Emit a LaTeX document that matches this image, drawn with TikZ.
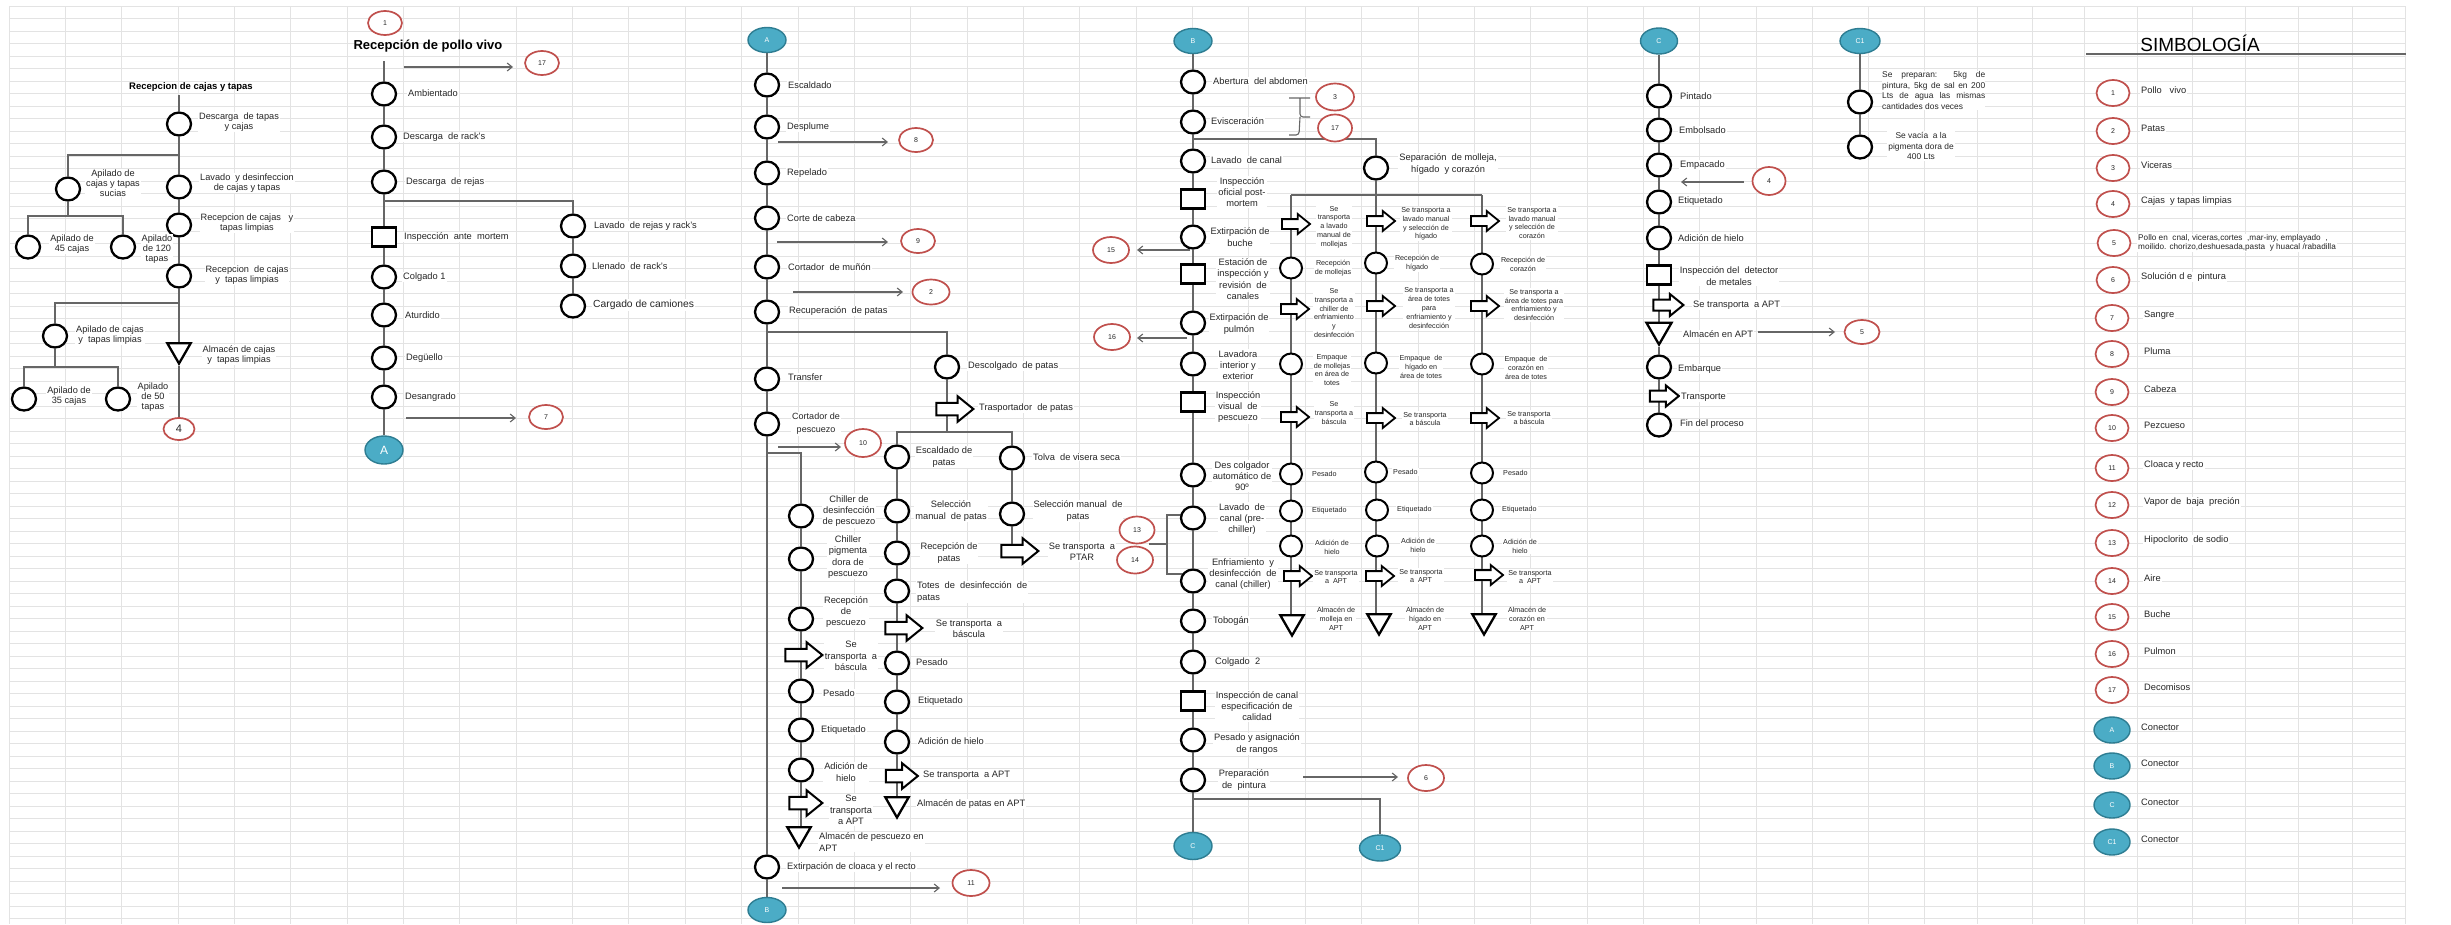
\documentclass[tikz,border=0pt]{standalone}
\usepackage{fontspec}
\setmainfont{Liberation Sans}
\usetikzlibrary{shapes.geometric,shapes.arrows,arrows.meta,backgrounds}
\definecolor{ink}{HTML}{262626}
\definecolor{wire}{HTML}{666666}
\definecolor{cellline}{HTML}{E3E3E3}
\definecolor{refred}{HTML}{C0504D}
\definecolor{conteal}{HTML}{4BACC6}
\definecolor{conedge}{HTML}{2E7D92}
% invisible struts that set the shaft thickness of the transport arrows
\newcommand\shaftbig{\rule{0pt}{10.5pt}}
\newcommand\shaftmid{\rule{0pt}{9pt}}
\newcommand\shaftsmall{\rule{0pt}{8pt}}
\tikzset{
  opc/.style={ellipse, draw=black, line width=2.3pt, fill=white, minimum width=24pt, minimum height=23pt, inner sep=0pt},
  opcs/.style={opc, line width=2pt, minimum width=22pt, minimum height=21pt},
  inspbox/.style={rectangle, draw=black, line width=2.3pt, fill=white, minimum width=24pt, minimum height=19pt, inner sep=0pt},
  storetri/.style={regular polygon, regular polygon sides=3, shape border rotate=180, draw=black, line width=2.3pt, fill=white, minimum size=27pt, inner sep=0pt},
  movearrow/.style={single arrow, draw=black, line width=2pt, fill=white, minimum height=37pt, minimum width=1pt, single arrow head extend=6.5pt, single arrow tip angle=78, inner sep=0pt},
  moveshort/.style={movearrow, line width=1.8pt, minimum height=28pt, single arrow head extend=5pt},
  refnum/.style={ellipse, draw=refred, line width=1.7pt, fill=white, minimum width=34pt, minimum height=24pt, inner sep=0pt, text=ink, font=\fontsize{7}{8}\selectfont},
  connball/.style={ellipse, draw=conedge, line width=1.4pt, fill=conteal, minimum width=38pt, minimum height=25pt, inner sep=0pt, text=white, font=\fontsize{7}{8}\selectfont},
  txt/.style={fill=white, inner sep=1pt, text=ink, align=center, font=\fontsize{9.3}{11.3}\selectfont},
  txtl/.style={txt, anchor=west, align=left},
  txtc/.style={txt, font=\fontsize{9.2}{9.8}\selectfont},
  vtxt/.style={txt, font=\fontsize{7.2}{8.8}\selectfont},
  vtxtl/.style={vtxt, anchor=west, align=left},
  flow/.style={draw=wire, line width=1.3pt},
  spill/.style={draw=wire, line width=1.1pt, -{Straight Barb[length=5pt,width=8pt]}},
}
\begin{document}
\begin{tikzpicture}[x=1pt,y=-1pt]
\useasboundingbox (0,0) rectangle (2451,924);
% spreadsheet cells behind the chart
\begin{pgfonlayer}{background}
  \fill[white] (0,0) rectangle (2451,924);
  \foreach \i in {0,...,33} \draw[cellline, line width=1pt] ({9+56.36*\i},6) -- ({9+56.36*\i},924);
  \foreach \gx in {1924,1977,2032,2084,2137,2192,2245,2298,2352,2405} \draw[cellline, line width=1pt] (\gx,6) -- (\gx,924);
  \foreach \j in {0,...,73} \draw[cellline, line width=1pt] (9,{6+12.5*\j}) -- (2405,{6+12.5*\j});
\end{pgfonlayer}

% ===== Recepcion de cajas y tapas =====
\node[font=\bfseries\fontsize{9.5}{11}\selectfont, text=black] (cjT) at (191,87) {Recepcion de cajas y tapas};
\node[opc] (cj1) at (179,124) {};
\node[txtc] (cj1t) at (239,122) {Descarga\ \ de tapas\\ y cajas};
\node[opc] (cj2) at (68,189) {};
\node[txtc] (cj2t) at (113,183) {Apilado de\\ cajas y tapas\\ sucias};
\node[opc] (cj3) at (179,187) {};
\node[txtc] (cj3t) at (247,183) {Lavado\ \ y desinfeccion\\ de cajas y tapas};
\node[opc] (cj4) at (179,225) {};
\node[txtc] (cj4t) at (247,223) {Recepcion de cajas\ \ \ y\\ tapas limpias};
\node[opc] (cj5) at (28,247) {};
\node[txtc] (cj5t) at (72,244) {Apilado de\\ 45 cajas};
\node[opc] (cj6) at (123,247) {};
\node[txtc] (cj6t) at (157,249) {Apilado\\ de 120\\ tapas};
\node[opc] (cj7) at (179,276) {};
\node[txtc] (cj7t) at (247,275) {Recepcion\ \ de cajas\\ y\ \ tapas limpias};
\node[opc] (cj8) at (55,336) {};
\node[txtc] (cj8t) at (110,335) {Apilado de cajas\\ y\ \ tapas limpias};
\node[opc] (cj9) at (24,399) {};
\node[txtc] (cj9t) at (69,396) {Apilado de\\ 35 cajas};
\node[opc] (cj10) at (118,399) {};
\node[txtc] (cj10t) at (153,397) {Apilado\\ de 50\\ tapas};
\node[storetri] (cjS) at (179,350) {};
\node[txtc] (cjSt) at (239,355) {Almacén de cajas\\ y\ \ tapas limpias};
\node[refnum, minimum width=31pt, minimum height=22pt, font=\fontsize{11}{12}\selectfont] (cjR4) at (179,429) {4};
\coordinate (cjJ1) at (179,155);
\coordinate (cjJ2) at (68,216);
\coordinate (cjJ3) at (179,303);
\coordinate (cjJ4) at (55,367);

% ===== Recepcion de pollo vivo =====
\node[refnum] (pvR1) at (385,23) {1};
\node[font=\bfseries\fontsize{13}{15}\selectfont, text=black] (pvT) at (428,46) {Recepción de pollo vivo};
\coordinate (pv0) at (384,61);
\node[opc] (pv1) at (384,94) {};   \node[txtl] (pv1t) at (407,93) {Ambientado};
\node[opc] (pv2) at (384,137) {};  \node[txtl] (pv2t) at (402,137) {Descarga\ \ de rack's};
\node[opc] (pv3) at (384,182) {};  \node[txtl] (pv3t) at (405,182) {Descarga\ \ de rejas};
\node[inspbox] (pv4) at (384,237) {}; \node[txtl] (pv4t) at (403,237) {Inspección\ \ ante\ \ mortem};
\node[opc] (pv5) at (384,277) {};  \node[txtl] (pv5t) at (402,277) {Colgado 1};
\node[opc] (pv6) at (384,315) {};  \node[txtl] (pv6t) at (404,315) {Aturdido};
\node[opc] (pv7) at (384,358) {};  \node[txtl] (pv7t) at (405,358) {Degüello};
\node[opc] (pv8) at (384,397) {};  \node[txtl] (pv8t) at (404,397) {Desangrado};
\node[connball, minimum height=28pt, font=\fontsize{12}{14}\selectfont] (cnA1) at (384,450) {A};
\coordinate (pvJ) at (384,201);
\node[opc] (pq1) at (573,226) {};  \node[txtl] (pq1t) at (593,226) {Lavado\ \ de rejas y rack's};
\node[opc] (pq2) at (573,266) {};  \node[txtl] (pq2t) at (591,266) {Llenado\ \ de rack's};
\node[opc] (pq3) at (573,306) {};  \node[txtl, font=\fontsize{10.3}{12}\selectfont] (pq3t) at (592,305) {Cargado de camiones};
\coordinate (pvS17) at (404,67);  \coordinate (pvE17) at (513,67);
\node[refnum] (pvR17) at (542,63) {17};
\coordinate (pvS7) at (406,418);  \coordinate (pvE7) at (516,418);
\node[refnum] (pvR7) at (546,417) {7};

% ===== Column A =====
\node[connball] (cnA2) at (767,40) {A};
\node[opc] (av1) at (767,85) {};  \node[txtl] (av1t) at (787,85) {Escaldado};
\node[opc] (av2) at (767,127) {}; \node[txtl] (av2t) at (786,127) {Desplume};
\node[opc] (av3) at (767,173) {}; \node[txtl] (av3t) at (786,173) {Repelado};
\node[opc] (av4) at (767,218) {}; \node[txtl] (av4t) at (786,218) {Corte de cabeza};
\node[opc] (av5) at (767,267) {}; \node[txtl] (av5t) at (787,267) {Cortador\ \ de muñón};
\node[opc] (av6) at (767,312) {}; \node[txtl] (av6t) at (788,311) {Recuperación\ \ de patas};
\node[opc] (av7) at (767,379) {}; \node[txtl] (av7t) at (787,377) {Transfer};
\node[opc] (av8) at (767,424) {}; \node[txt, font=\fontsize{9}{13}\selectfont] (av8t) at (816,424) {Cortador de\\ pescuezo};
\node[opc] (av9) at (767,867) {}; \node[txtl] (av9t) at (786,867) {Extirpación de cloaca y el recto};
\node[connball] (cnB1) at (767,910) {B};
\coordinate (avJ1) at (767,332);
\coordinate (avJ2) at (767,453);
\coordinate (avS8) at (778,142);  \coordinate (avE8) at (888,142);  \node[refnum] (avR8) at (916,140) {8};
\coordinate (avS9) at (777,242);  \coordinate (avE9) at (888,242);  \node[refnum] (avR9) at (918,241) {9};
\coordinate (avS2) at (793,292);  \coordinate (avE2) at (903,292);  \node[refnum, minimum width=37pt, minimum height=25pt] (avR2) at (931,292) {2};
\coordinate (avS10) at (778,447); \coordinate (avE10) at (841,447); \node[refnum, minimum width=36pt, minimum height=28pt] (avR10) at (863,443) {10};
\coordinate (avS11) at (782,888); \coordinate (avE11) at (940,888); \node[refnum, minimum width=37pt, minimum height=26pt] (avR11) at (971,883) {11};

% feet branch
\node[opc] (pt1) at (947,367) {};        \node[txtl] (pt1t) at (967,366) {Descolgado\ \ de patas};
\node[movearrow] (pt2) at (951,409) {\shaftbig};  \node[txtl] (pt2t) at (978,408) {Trasportador\ \ de patas};
\coordinate (ptJ) at (947,432);
\node[opc] (pl1) at (897,457) {};  \node[txt] (pl1t) at (944,457) {Escaldado de\\ patas};
\node[opc] (pl2) at (897,511) {};  \node[txt] (pl2t) at (951,511) {Selección\\ manual\ \ de patas};
\node[opc] (pl3) at (897,553) {};  \node[txt] (pl3t) at (949,553) {Recepción de\\ patas};
\node[opc] (pl4) at (897,591) {};  \node[txtl] (pl4t) at (916,592) {Totes\ \ de\ \ desinfección\ \ de\\ patas};
\node[movearrow] (pl5) at (900,628) {\shaftbig};  \node[txt] (pl5t) at (969,629) {Se transporta\ \ a\\ báscula};
\node[opc] (pl6) at (897,663) {};  \node[txtl] (pl6t) at (915,662) {Pesado};
\node[opc] (pl7) at (897,702) {};  \node[txtl] (pl7t) at (917,701) {Etiquetado};
\node[opc] (pl8) at (897,742) {};  \node[txtl] (pl8t) at (917,741) {Adición de hielo};
\node[movearrow, minimum height=32pt] (pl9) at (898,776) {\shaftbig}; \node[txtl] (pl9t) at (922,775) {Se transporta\ \ a APT};
\node[storetri] (pl10) at (897,804) {};  \node[txtl] (pl10t) at (916,804) {Almacén de patas en APT};
\node[opc] (pr1) at (1012,458) {}; \node[txtl] (pr1t) at (1032,457) {Tolva\ \ de visera seca};
\node[opc] (pr2) at (1012,514) {}; \node[txt] (pr2t) at (1078,511) {Selección manual\ \ de\\ patas};
\node[movearrow] (pr3) at (1016,551) {\shaftbig}; \node[txt] (pr3t) at (1082,552) {Se transporta\ \ a\\ PTAR};

% neck branch
\node[opc] (nk1) at (801,516) {};  \node[txt] (nk1t) at (849,511) {Chiller de\\ desinfección\\ de pescuezo};
\node[opc] (nk2) at (801,559) {};  \node[txt] (nk2t) at (848,557) {Chiller\\ pigmenta\\ dora de\\ pescuezo};
\node[opc] (nk3) at (801,619) {};  \node[txt] (nk3t) at (846,612) {Recepción\\ de\\ pescuezo};
\node[movearrow] (nk4) at (800,655) {\shaftbig};  \node[txt] (nk4t) at (851,656) {Se\\ transporta\ \ a\\ báscula};
\node[opc] (nk5) at (801,691) {};  \node[txtl] (nk5t) at (822,693) {Pesado};
\node[opc] (nk6) at (801,730) {};  \node[txtl] (nk6t) at (820,730) {Etiquetado};
\node[opc] (nk7) at (801,770) {};  \node[txt] (nk7t) at (846,772) {Adición de\\ hielo};
\node[movearrow, minimum height=33pt] (nk8) at (802,803) {\shaftbig}; \node[txt] (nk8t) at (851,810) {Se\\ transporta\\ a APT};
\node[storetri] (nk9) at (799,834) {};  \node[txtl] (nk9t) at (818,842) {Almacén de pescuezo en\\ APT};

% ===== Column B =====
\node[connball] (cnB2) at (1193,41) {B};
\node[opc] (bv1) at (1193,82) {};      \node[txtl] (bv1t) at (1212,81) {Abertura\ \ del abdomen};
\node[opc] (bv2) at (1193,122) {};     \node[txtl] (bv2t) at (1210,121) {Evisceración};
\node[opc] (bv3) at (1193,161) {};     \node[txtl] (bv3t) at (1210,160) {Lavado\ \ de canal};
\node[inspbox] (bv4) at (1193,199) {}; \node[txt] (bv4t) at (1242,192) {Inspección\\ oficial post-\\ mortem};
\node[opc] (bv5) at (1193,237) {};     \node[txt] (bv5t) at (1240,237) {Extirpación de\\ buche};
\node[inspbox] (bv6) at (1193,274) {}; \node[txt] (bv6t) at (1243,279) {Estación de\\ inspección y\\ revisión\ \ de\\ canales};
\node[opc] (bv7) at (1193,323) {};     \node[txt] (bv7t) at (1239,324) {Extirpación de\\ pulmón};
\node[opc] (bv8) at (1193,364) {};     \node[txt] (bv8t) at (1238,365) {Lavadora\\ interior y\\ exterior};
\node[inspbox] (bv9) at (1193,402) {}; \node[txt] (bv9t) at (1238,407) {Inspección\\ visual\ \ de\\ pescuezo};
\node[opc] (bv10) at (1193,475) {};    \node[txt] (bv10t) at (1242,476) {Des colgador\\ automático de\\ 90º};
\node[opc] (bv11) at (1193,518) {};    \node[txt] (bv11t) at (1242,519) {Lavado\ \ de\\ canal (pre-\\ chiller)};
\node[opc] (bv12) at (1193,581) {};    \node[txt] (bv12t) at (1243,574) {Enfriamiento\ \ y\\ desinfección\ \ de\\ canal (chiller)};
\node[opc] (bv13) at (1193,621) {};    \node[txtl] (bv13t) at (1212,621) {Tobogán};
\node[opc] (bv14) at (1193,662) {};    \node[txtl] (bv14t) at (1214,662) {Colgado\ \ 2};
\node[inspbox] (bv15) at (1193,701) {};\node[txt] (bv15t) at (1257,706) {Inspección de canal\\ especificación de\\ calidad};
\node[opc] (bv16) at (1193,740) {};    \node[txt] (bv16t) at (1257,744) {Pesado y asignación\\ de rangos};
\node[opc] (bv17) at (1193,780) {};    \node[txt] (bv17t) at (1244,780) {Preparación\\ de\ \ pintura};
\node[connball, minimum height=27pt] (cnC2) at (1193,846) {C};
\node[connball, minimum width=41pt, minimum height=26pt] (cnC1a) at (1380,848) {C1};
\coordinate (bvJ1) at (1193,139);
\coordinate (bvJ2) at (1193,799);
\node[refnum, minimum width=38pt, minimum height=27pt] (bvR3) at (1335,97) {3};
\node[refnum, minimum width=34pt, minimum height=27pt] (bvR17) at (1335,128) {17};
\coordinate (bzA) at (1289,98); \coordinate (bzB) at (1289,135); \coordinate (bzT) at (1310,117);
\node[refnum, minimum width=36pt, minimum height=26pt] (bvR15) at (1111,250) {15};
\coordinate (bvS15) at (1190,250); \coordinate (bvE15) at (1137,250);
\node[refnum, minimum width=36pt, minimum height=26pt] (bvR16) at (1112,337) {16};
\coordinate (bvS16) at (1187,338); \coordinate (bvE16) at (1137,338);
\node[refnum, minimum width=35pt, minimum height=27pt] (bvR13) at (1137,530) {13};
\node[refnum, minimum width=36pt, minimum height=27pt] (bvR14) at (1135,560) {14};
\coordinate (kA) at (1182,515); \coordinate (kB) at (1167,515); \coordinate (kC) at (1167,574);
\coordinate (kD) at (1186,574); \coordinate (kM) at (1167,544); \coordinate (kT) at (1149,544);
\node[refnum, minimum width=36pt, minimum height=26pt] (bvR6) at (1426,778) {6};
\coordinate (bvS6) at (1303,777); \coordinate (bvE6) at (1398,777);

% viscera split
\node[opc] (vs0) at (1376,168) {}; \node[txt] (vs0t) at (1448,164) {Separación\ \ de molleja,\\ hígado\ \ y corazón};
\coordinate (vsL) at (1291,195); \coordinate (vsR) at (1482,195);
% gizzard
\node[moveshort] (ml1) at (1293,224) {\shaftsmall}; \node[vtxt] (ml1t) at (1334,227) {Se\\ transporta\\ a lavado\\ manual de\\ mollejas};
\node[opcs] (ml2) at (1291,268) {};      \node[vtxt] (ml2t) at (1333,268) {Recepción\\ de mollejas};
\node[moveshort] (ml3) at (1292,309) {\shaftsmall}; \node[vtxt] (ml3t) at (1334,313) {Se\\ transporta a\\ chiller de\\ enfriamiento\\ y\\ desinfección};
\node[opcs] (ml4) at (1291,364) {};      \node[vtxt] (ml4t) at (1332,370) {Empaque\\ de mollejas\\ en área de\\ totes};
\node[moveshort] (ml5) at (1292,417) {\shaftsmall}; \node[vtxt] (ml5t) at (1334,413) {Se\\ transporta a\\ báscula};
\node[opcs] (ml6) at (1291,474) {};      \node[vtxtl] (ml6t) at (1311,474) {Pesado};
\node[opcs] (ml7) at (1291,511) {};      \node[vtxtl] (ml7t) at (1311,511) {Etiquetado};
\node[opcs] (ml8) at (1291,546) {};      \node[vtxt] (ml8t) at (1332,547) {Adición de\\ hielo};
\node[moveshort] (ml9) at (1295,576) {\shaftsmall}; \node[vtxt] (ml9t) at (1336,577) {Se transporta\\ a\ \ APT};
\node[storetri] (ml10) at (1292,622) {}; \node[vtxt] (ml10t) at (1336,619) {Almacén de\\ molleja en\\ APT};
% liver
\node[moveshort] (mm1) at (1378,221) {\shaftsmall}; \node[vtxt] (mm1t) at (1426,224) {Se transporta a\\ lavado manual\\ y selección de\\ hígado};
\node[opcs] (mm2) at (1376,263) {};      \node[vtxt] (mm2t) at (1417,263) {Recepción de\\ hígado};
\node[moveshort] (mm3) at (1378,306) {\shaftsmall}; \node[vtxt] (mm3t) at (1429,308) {Se transporta a\\ área de totes\\ para\\ enfriamiento y\\ desinfección};
\node[opcs] (mm4) at (1376,363) {};      \node[vtxt] (mm4t) at (1421,367) {Empaque\ \ de\\ hígado en\\ área de totes};
\node[moveshort] (mm5) at (1378,418) {\shaftsmall}; \node[vtxt] (mm5t) at (1425,419) {Se transporta\\ a báscula};
\node[opcs] (mm6) at (1376,472) {};      \node[vtxtl] (mm6t) at (1392,472) {Pesado};
\node[opcs] (mm7) at (1377,510) {};      \node[vtxtl] (mm7t) at (1396,510) {Etiquetado};
\node[opcs] (mm8) at (1377,546) {};      \node[vtxt] (mm8t) at (1418,545) {Adición de\\ hielo};
\node[moveshort] (mm9) at (1377,576) {\shaftsmall}; \node[vtxt] (mm9t) at (1421,576) {Se transporta\\ a\ \ APT};
\node[storetri] (mm10) at (1379,621) {}; \node[vtxt] (mm10t) at (1425,619) {Almacén de\\ hígado en\\ APT};
% heart
\node[moveshort] (mr1) at (1482,221) {\shaftsmall}; \node[vtxt] (mr1t) at (1532,223) {Se transporta a\\ lavado manual\\ y selección de\\ corazón};
\node[opcs] (mr2) at (1482,264) {};      \node[vtxt] (mr2t) at (1523,264) {Recepción de\\ corazón};
\node[moveshort] (mr3) at (1482,306) {\shaftsmall}; \node[vtxt] (mr3t) at (1534,305) {Se transporta a\\ área de totes para\\ enfriamiento y\\ desinfección};
\node[opcs] (mr4) at (1482,364) {};      \node[vtxt] (mr4t) at (1526,368) {Empaque\ \ de\\ corazón en\\ área de totes};
\node[moveshort] (mr5) at (1482,418) {\shaftsmall}; \node[vtxt] (mr5t) at (1529,418) {Se transporta\\ a báscula};
\node[opcs] (mr6) at (1482,473) {};      \node[vtxtl] (mr6t) at (1502,473) {Pesado};
\node[opcs] (mr7) at (1482,510) {};      \node[vtxtl] (mr7t) at (1501,510) {Etiquetado};
\node[opcs] (mr8) at (1482,546) {};      \node[vtxt] (mr8t) at (1520,546) {Adición de\\ hielo};
\node[moveshort] (mr9) at (1486,575) {\shaftsmall}; \node[vtxt] (mr9t) at (1530,577) {Se transporta\\ a\ \ APT};
\node[storetri] (mr10) at (1484,621) {}; \node[vtxt] (mr10t) at (1527,619) {Almacén de\\ corazón en\\ APT};

% ===== Column C =====
\node[connball, minimum width=37pt, minimum height=26pt] (cnC3) at (1659,41) {C};
\node[opc] (fc1) at (1659,96) {};  \node[txtl] (fc1t) at (1679,96) {Pintado};
\node[opc] (fc2) at (1659,130) {}; \node[txtl] (fc2t) at (1678,130) {Embolsado};
\node[opc] (fc3) at (1659,165) {}; \node[txtl] (fc3t) at (1679,165) {Empacado};
\node[opc] (fc4) at (1659,202) {}; \node[txtl] (fc4t) at (1677,201) {Etiquetado};
\node[opc] (fc5) at (1659,238) {}; \node[txtl] (fc5t) at (1677,238) {Adición de hielo};
\node[inspbox] (fc6) at (1659,275) {}; \node[txt] (fc6t) at (1729,276) {Inspección del\ \ detector\\ de metales};
\node[movearrow, minimum height=30pt, single arrow head extend=5.5pt] (fc7) at (1665,305) {\shaftmid};
\node[txtl] (fc7t) at (1692,305) {Se transporta\ \ a APT};
\node[storetri, minimum size=29pt] (fc8) at (1659,330) {}; \node[txtl] (fc8t) at (1682,334) {Almacén en APT};
\node[opc] (fc9) at (1659,367) {}; \node[txtl] (fc9t) at (1677,369) {Embarque};
\node[movearrow, minimum height=29pt, single arrow head extend=5pt] (fc10) at (1661,396) {\shaftmid};
\node[txtl] (fc10t) at (1680,397) {Transporte};
\node[opc] (fc11) at (1659,425) {}; \node[txtl] (fc11t) at (1679,424) {Fin del proceso};
\node[refnum, minimum width=33pt, minimum height=28pt] (fcR4) at (1769,181) {4};
\coordinate (fcS4) at (1744,182); \coordinate (fcE4) at (1681,182);
\node[refnum, minimum width=35pt, minimum height=24pt] (fcR5) at (1862,332) {5};
\coordinate (fcS5) at (1758,332); \coordinate (fcE5) at (1835,332);

% ===== Column C1 =====
\node[connball, minimum width=40pt] (cnC1b) at (1860,41) {C1};
\node[opc] (gc1) at (1860,102) {};
\node[opc] (gc2) at (1860,147) {};
\node[txt, anchor=north west, align=left, inner sep=0pt, font=\fontsize{8.4}{10.8}\selectfont] (gc1t) at (1882,71)
  {\makebox[103pt][s]{Se preparan: 5kg de}\\ \makebox[103pt][s]{pintura, 5kg de sal en 200}\\ \makebox[103pt][s]{Lts de agua las mismas}\\ cantidades dos veces};
\node[txt, font=\fontsize{8.4}{10.8}\selectfont] (gc2t) at (1921,146) {Se vacía\ \ a la\\ pigmenta dora de\\ 400 Lts};

% ===== Legend =====
\node[font=\fontsize{19}{22}\selectfont, text=black] (lgT) at (2200,43) {SIMBOLOGÍA};
\coordinate (lgRa) at (2086,54); \coordinate (lgRb) at (2406,54);
\foreach \n/\y/\t in {1/93/Pollo\ \ \ vivo, 2/131/Patas, 3/168/Viceras, 4/204/Cajas\ \ y tapas limpias, 6/280/Solución d e\ \ pintura}{
  \node[refnum, minimum width=33pt, minimum height=26pt] (lg\n) at (2113,\y) {\n};
  \node[txtl] (lgt\n) at (2140,{\y-3}) {\t};
}
\node[refnum, minimum width=33pt, minimum height=26pt] (lg5) at (2114,243) {5};
\node[txtl, font=\fontsize{8.2}{9.2}\selectfont] (lgt5) at (2137,243) {Pollo en\ \ cnal, viceras,cortes\ \ ,mar-iny, emplayado\ \ ,\\ moilido. chorizo,deshuesada,pasta\ \ y huacal /rabadilla};
\foreach \n/\y/\t in {7/318/Sangre, 8/354/Pluma, 9/392/Cabeza, 10/428/Pezcueso, 11/468/Cloaca y recto, 12/505/Vapor de\ \ baja\ \ preción, 13/543/Hipoclorito\ \ de sodio, 14/581/Aire, 15/617/Buche, 16/654/Pulmon, 17/690/Decomisos}{
  \node[refnum, minimum width=33pt, minimum height=26pt] (lg\n) at (2112,\y) {\n};
  \node[txtl] (lgt\n) at (2143,{\y-3}) {\t};
}
\foreach \n/\y in {A/730, B/766, C/805, C1/842}{
  \node[connball, minimum width=36pt, minimum height=26pt] (lgc\n) at (2112,\y) {\n};
  \node[txtl] (lgct\n) at (2140,{\y-3}) {Conector};
}

% ===== connectors =====
\begin{pgfonlayer}{background}
  % cajas
  \draw[flow] (cj1 |- cjT.south) -- (cj1) -- (cj3) -- (cj4) -- (cj7) -- (cjS) -- (cjR4);
  \draw[flow] (cjJ1) -| (cj2);
  \draw[flow] (cj2) -- (cjJ2);
  \draw[flow] (cj5) |- (cjJ2) -| (cj6);
  \draw[flow] (cjJ3) -| (cj8);
  \draw[flow] (cj8) -- (cjJ4);
  \draw[flow] (cj9) |- (cjJ4) -| (cj10);
  % pollo vivo
  \draw[flow] (pv0) -- (pv1) -- (pv2) -- (pv3) -- (pv4) -- (pv5) -- (pv6) -- (pv7) -- (pv8) -- (cnA1);
  \draw[flow] (pvJ) -| (pq1);
  \draw[flow] (pq1) -- (pq2) -- (pq3);
  \draw[spill] (pvS17) -- (pvE17);
  \draw[spill] (pvS7) -- (pvE7);
  % column A
  \draw[flow] (cnA2) -- (av1) -- (av2) -- (av3) -- (av4) -- (av5) -- (av6) -- (av7) -- (av8) -- (av9) -- (cnB1);
  \draw[spill] (avS8) -- (avE8);
  \draw[spill] (avS9) -- (avE9);
  \draw[spill] (avS2) -- (avE2);
  \draw[spill] (avS10) -- (avE10);
  \draw[spill] (avS11) -- (avE11);
  \draw[flow] (avJ1) -| (pt1);
  \draw[flow] (pt1) -- (ptJ);
  \draw[flow] (pl1) |- (ptJ) -| (pr1);
  \draw[flow] (pl1) -- (pl2) -- (pl3) -- (pl4) -- (pl6) -- (pl7) -- (pl8) -- (pl1 |- pl10);
  \draw[flow] (pr1) -- (pr2) -- (pr1 |- pr3);
  \draw[flow] (avJ2) -| (nk1);
  \draw[flow] (nk1) -- (nk2) -- (nk3) -- (nk5) -- (nk6) -- (nk7) -- (nk1 |- nk9);
  % column B
  \draw[flow] (cnB2) -- (bv1) -- (bv2) -- (bv3) -- (bv4) -- (bv5) -- (bv6) -- (bv7) -- (bv8) -- (bv9) -- (bv10) -- (bv11) -- (bv12) -- (bv13) -- (bv14) -- (bv15) -- (bv16) -- (bv17) -- (cnC2);
  \draw[flow] (bvJ2) -| (cnC1a);
  \draw[flow] (bvJ1) -| (vs0);
  \draw[flow] (vsL) -- (vsR);
  \draw[flow] (vs0) -- (vs0 |- mm10);
  \draw[flow] (vsL) -- (vsL |- ml10);
  \draw[flow] (vsR) -- (vsR |- mr10);
  \draw[flow, line width=1.1pt, rounded corners=3pt] (bzA) -- (bzA -| bzT) ++(-10,0) -- ([xshift=-10pt]bzT) -- (bzT);
  \draw[flow, line width=1.1pt, rounded corners=3pt] (bzB) -- ++(10,0) -- ([xshift=-10pt]bzT);
  \draw[spill] (bvS15) -- (bvE15);
  \draw[spill] (bvS16) -- (bvE16);
  \draw[flow, line width=1.1pt] (kA) -- (kB) -- (kC) -- (kD);
  \draw[flow, line width=1.1pt] (kM) -- (kT);
  \draw[spill] (bvS6) -- (bvE6);
  % column C
  \draw[flow] (cnC3) -- (fc1) -- (fc2) -- (fc3) -- (fc4) -- (fc5) -- (fc6) -- (fc8) -- (fc9) -- (fc11);
  \draw[spill] (fcS4) -- (fcE4);
  \draw[spill] (fcS5) -- (fcE5);
  % column C1
  \draw[flow] (cnC1b) -- (gc1) -- (gc2);
  % legend rule
  \draw[draw=wire, line width=1.2pt] (lgRa) -- (lgRb);
\end{pgfonlayer}
\end{tikzpicture}
\end{document}
